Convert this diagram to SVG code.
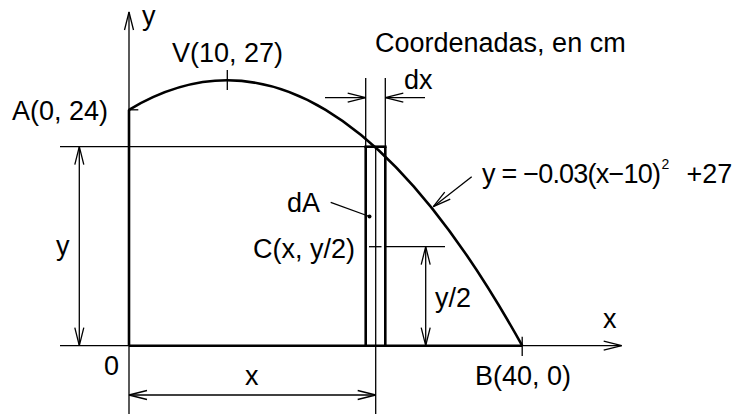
<svg xmlns="http://www.w3.org/2000/svg" width="736" height="414" viewBox="0 0 736 414">
<style>
text{font-family:"Liberation Sans",Arial,sans-serif;font-size:27px;fill:#000}
.thin{stroke:#000;stroke-width:1.3;fill:none}
.thick{stroke:#000;stroke-width:2.6;fill:none}
.dim{stroke:#000;stroke-width:1.3;fill:none;marker-end:url(#arr)}
.dim2{stroke:#000;stroke-width:1.3;fill:none;marker-start:url(#arr);marker-end:url(#arr)}
</style>
<defs>
<marker id="arr" viewBox="-20 -6 22 12" refX="0" refY="0" markerWidth="22" markerHeight="12" markerUnits="userSpaceOnUse" orient="auto-start-reverse">
<path d="M-18,-4.5 L0,0 L-18,4.5" fill="none" stroke="#000" stroke-width="1.3"/>
</marker>
</defs>
<rect width="736" height="414" fill="#fff"/>
<g id="connectors">
<line class="dim" x1="129" y1="414" x2="129" y2="12"/>
<line class="dim" x1="60" y1="345.7" x2="621.7" y2="345.7"/>
<line class="thick" x1="129" y1="109.8" x2="129" y2="345.7"/>
<line class="thick" x1="129" y1="345.7" x2="522.2" y2="345.7"/>
<path class="thick" d="M129,109.8 Q325.6,-8.2 522.2,345.7"/>
<line class="thin" x1="60" y1="146.7" x2="385.3" y2="146.7"/>
<line class="thin" x1="365.7" y1="78" x2="365.7" y2="146.7"/>
<line class="thin" x1="385.3" y1="78" x2="385.3" y2="146.7"/>
<line class="dim" x1="325" y1="97.7" x2="365.7" y2="97.7"/>
<line class="dim" x1="425" y1="97.7" x2="385.3" y2="97.7"/>
<line class="dim2" x1="79.3" y1="146.7" x2="79.3" y2="345.7"/>
<line class="dim2" x1="129" y1="395" x2="375.7" y2="395"/>
<line class="thin" x1="375.7" y1="345.7" x2="375.7" y2="414"/>
<line class="dim2" x1="425.7" y1="246.7" x2="425.7" y2="345.7"/>
<line class="thin" x1="369" y1="246.7" x2="381.5" y2="246.7"/>
<line class="thin" x1="385.3" y1="246.7" x2="445" y2="246.7"/>
<line class="thin" x1="330.7" y1="202.3" x2="369.5" y2="216.5"/>
<line class="dim" x1="471.7" y1="176.7" x2="433.3" y2="206.7"/>
<line class="thin" x1="128" y1="109.8" x2="138.3" y2="109.8"/>
<line class="thin" x1="227.3" y1="70" x2="227.3" y2="90"/>
<line class="thin" x1="522.2" y1="336.7" x2="522.2" y2="356"/>
</g>
<g id="strip">
<line class="thick" x1="365.7" y1="146.7" x2="365.7" y2="345.7"/>
<line class="thick" x1="385.3" y1="146.7" x2="385.3" y2="345.7"/>
<line class="thick" x1="364.4" y1="146.7" x2="386.6" y2="146.7"/>
<line class="thin" x1="375.7" y1="146.7" x2="375.7" y2="345.7" stroke-width="1"/>
<circle cx="369.5" cy="216.5" r="2"/>
</g>
<g id="axis-labels">
<text x="142" y="25">y</text>
<text x="603" y="328">x</text>
<text x="104" y="375">0</text>
</g>
<g id="point-A"><text x="12" y="120">A(0, 24)</text></g>
<g id="point-V"><text x="172" y="61.5">V(10, 27)</text></g>
<g id="point-B"><text x="475" y="385">B(40, 0)</text></g>
<g id="title"><text x="375" y="51.5">Coordenadas, en cm</text></g>
<g id="label-dx"><text x="404" y="89">dx</text></g>
<g id="label-dA"><text x="287" y="212">dA</text></g>
<g id="point-C"><text x="253" y="258">C(x, y/2)</text></g>
<g id="label-y"><text x="56" y="255">y</text></g>
<g id="label-x"><text x="245" y="385">x</text></g>
<g id="label-y2"><text x="435" y="306.7">y/2</text></g>
<g id="equation">
<text x="482" y="183" textLength="179" lengthAdjust="spacing">y = −0.03(x−10)</text>
<text x="661.5" y="169" style="font-size:14px">2</text>
<text x="686.5" y="183">+27</text>
</g>
</svg>
